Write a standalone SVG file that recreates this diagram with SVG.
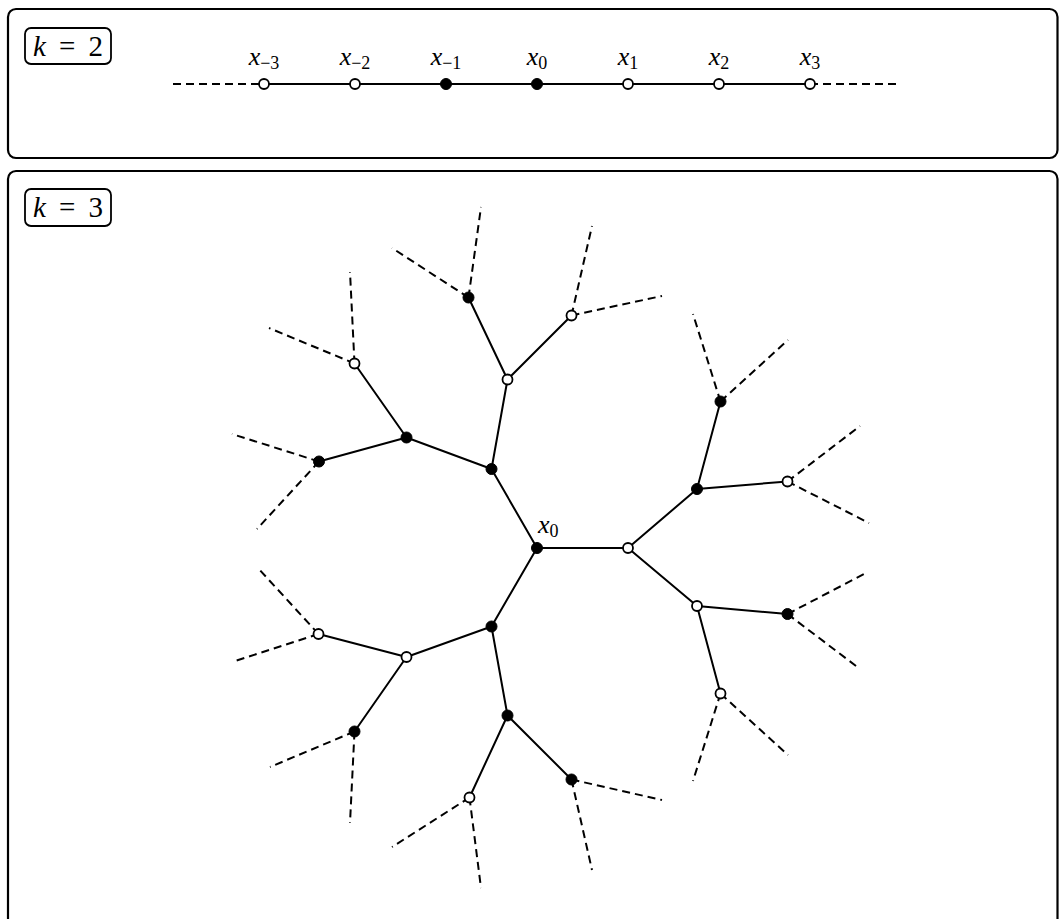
<svg xmlns="http://www.w3.org/2000/svg" width="1059" height="919" viewBox="0 0 1059 919">
<style>
.panel{fill:none;stroke:#000;stroke-width:2.2}
.lbl{fill:#fff;stroke:#000;stroke-width:1.8}
.e{stroke:#000;stroke-width:2;fill:none}
.d{stroke:#000;stroke-width:2;fill:none;stroke-dasharray:8 5}
.o{fill:#fff;stroke:#000;stroke-width:1.8}
.f{fill:#000;stroke:#000;stroke-width:1}
text{font-family:'Liberation Serif','DejaVu Serif',serif;font-size:26px;fill:#000}
.i{font-style:italic}
.s{font-size:18px}
.k{font-size:29px}
</style>
<rect x="0" y="0" width="1059" height="919" fill="#fff"/>
<g id="panel-k2">
<rect class="panel" x="8" y="9" width="1049.5" height="149" rx="8"/>
<rect class="lbl" x="25" y="28" width="86" height="36" rx="6"/>
<text class="k" x="68" y="56" text-anchor="middle" textLength="70" lengthAdjust="spacing"><tspan class="i">k</tspan> = 2</text>
</g>
<g id="panel-k3">
<rect class="panel" x="8" y="171" width="1049.5" height="770" rx="8"/>
<rect class="lbl" x="25" y="189" width="86" height="37" rx="6"/>
<text class="k" x="68" y="217" text-anchor="middle" textLength="70" lengthAdjust="spacing"><tspan class="i">k</tspan> = 3</text>
</g>
<g id="connectors">
<line class="d" x1="173" y1="84" x2="264" y2="84"/>
<line class="e" x1="264" y1="84" x2="810" y2="84"/>
<line class="d" x1="810" y1="84" x2="901" y2="84"/>
<path class="e" d="M537,548 L628,548 M537,548 L491.5,469 M537,548 L491.5,626.5
M628,548 L697,489 M628,548 L697,606
M697,489 L720.5,401.5 M697,489 L787.5,481.5
M697,606 L787.5,614 M697,606 L720.5,693.5
M491.5,469 L507.5,379.5 M491.5,469 L406.5,437.5
M507.5,379.5 L468.5,297.5 M507.5,379.5 L571.5,315.5
M406.5,437.5 L354.5,363.5 M406.5,437.5 L319,461.5
M491.5,626.5 L406.5,657 M491.5,626.5 L507.5,715.5
M406.5,657 L318.5,634 M406.5,657 L354.5,731.5
M507.5,715.5 L469.5,797.5 M507.5,715.5 L571.5,779.5"/>
<path class="d" d="M720.5,401.5 L693,314 M720.5,401.5 L788,340
M787.5,481.5 L860,426 M787.5,481.5 L869,523
M787.5,614 L868,572 M787.5,614 L860,669
M720.5,693.5 L693,781 M720.5,693.5 L788,755
M571.5,779.5 L662,800 M571.5,779.5 L592,870
M469.5,797.5 L392,847 M469.5,797.5 L481,888
M354.5,731.5 L270,767 M354.5,731.5 L350,823
M318.5,634 L232,662 M318.5,634 L257,567
M319,461.5 L232,434 M319,461.5 L257,529
M354.5,363.5 L269,328 M354.5,363.5 L350,272
M468.5,297.5 L392,248 M468.5,297.5 L481,207
M571.5,315.5 L662,296 M571.5,315.5 L592,226"/>
</g>
<g id="chain-nodes">
<g id="xm3"><circle class="o" cx="264" cy="84" r="5"/><text x="264" y="65" text-anchor="middle"><tspan class="i">x</tspan><tspan class="s" dy="4">−3</tspan></text></g>
<g id="xm2"><circle class="o" cx="355" cy="84" r="5"/><text x="355" y="65" text-anchor="middle"><tspan class="i">x</tspan><tspan class="s" dy="4">−2</tspan></text></g>
<g id="xm1"><circle class="f" cx="446" cy="84" r="5.5"/><text x="446" y="65" text-anchor="middle"><tspan class="i">x</tspan><tspan class="s" dy="4">−1</tspan></text></g>
<g id="x0"><circle class="f" cx="537" cy="84" r="5.5"/><text x="537" y="65" text-anchor="middle"><tspan class="i">x</tspan><tspan class="s" dy="4">0</tspan></text></g>
<g id="x1"><circle class="o" cx="628" cy="84" r="5"/><text x="628" y="65" text-anchor="middle"><tspan class="i">x</tspan><tspan class="s" dy="4">1</tspan></text></g>
<g id="x2"><circle class="o" cx="719" cy="84" r="5"/><text x="719" y="65" text-anchor="middle"><tspan class="i">x</tspan><tspan class="s" dy="4">2</tspan></text></g>
<g id="x3"><circle class="o" cx="810" cy="84" r="5"/><text x="810" y="65" text-anchor="middle"><tspan class="i">x</tspan><tspan class="s" dy="4">3</tspan></text></g>
</g>
<g id="tree-nodes">
<g id="t-root"><circle class="f" cx="537" cy="548" r="5.5"/><text x="538" y="533"><tspan class="i">x</tspan><tspan class="s" dy="4">0</tspan></text></g>
<g id="t-a"><circle class="o" cx="628" cy="548" r="5"/></g>
<g id="t-b"><circle class="f" cx="491.5" cy="469" r="5.5"/></g>
<g id="t-c"><circle class="f" cx="491.5" cy="626.5" r="5.5"/></g>
<g id="t-a1"><circle class="f" cx="697" cy="489" r="5.5"/></g>
<g id="t-a2"><circle class="o" cx="697" cy="606" r="5"/></g>
<g id="t-a11"><circle class="f" cx="720.5" cy="401.5" r="5.5"/></g>
<g id="t-a12"><circle class="o" cx="787.5" cy="481.5" r="5"/></g>
<g id="t-a21"><circle class="f" cx="787.5" cy="614" r="5.5"/></g>
<g id="t-a22"><circle class="o" cx="720.5" cy="693.5" r="5"/></g>
<g id="t-b1"><circle class="o" cx="507.5" cy="379.5" r="5"/></g>
<g id="t-b2"><circle class="f" cx="406.5" cy="437.5" r="5.5"/></g>
<g id="t-b11"><circle class="f" cx="468.5" cy="297.5" r="5.5"/></g>
<g id="t-b12"><circle class="o" cx="571.5" cy="315.5" r="5"/></g>
<g id="t-b21"><circle class="o" cx="354.5" cy="363.5" r="5"/></g>
<g id="t-b22"><circle class="f" cx="319" cy="461.5" r="5.5"/></g>
<g id="t-c1"><circle class="o" cx="406.5" cy="657" r="5"/></g>
<g id="t-c2"><circle class="f" cx="507.5" cy="715.5" r="5.5"/></g>
<g id="t-c11"><circle class="o" cx="318.5" cy="634" r="5"/></g>
<g id="t-c12"><circle class="f" cx="354.5" cy="731.5" r="5.5"/></g>
<g id="t-c21"><circle class="o" cx="469.5" cy="797.5" r="5"/></g>
<g id="t-c22"><circle class="f" cx="571.5" cy="779.5" r="5.5"/></g>
</g>
</svg>
